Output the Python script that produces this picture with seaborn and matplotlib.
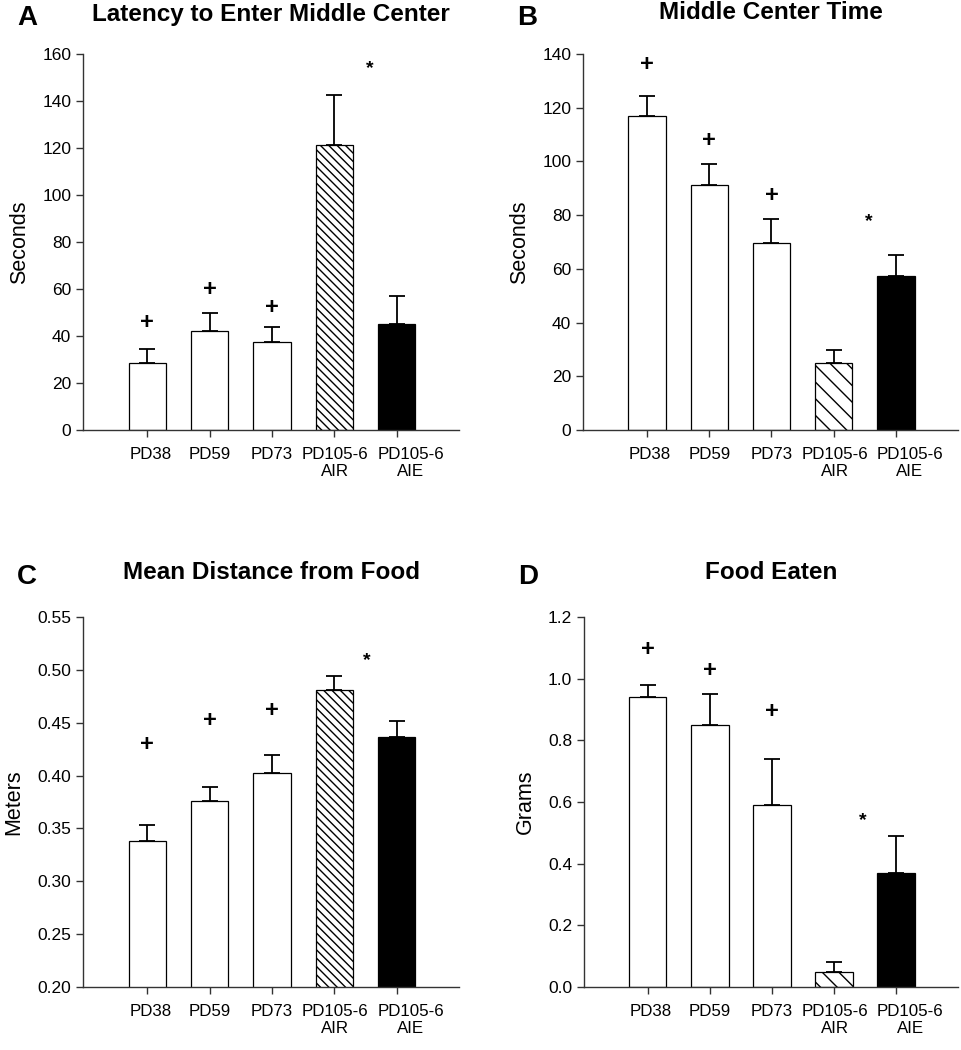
import matplotlib
matplotlib.use("Agg")
import matplotlib.pyplot as plt
import matplotlib.transforms as mtransforms
import seaborn as sns

groups = ["PD38", "PD59", "PD73", "PD105-6\nAIR", "PD105-6\nAIE"]
bar_colors = ["white", "white", "white", "white", "black"]

# panel A - latency to enter middle center (s)
lat_mean = [28.4, 42.3, 37.5, 121.4, 44.9]
lat_sem = [6.0, 7.4, 6.5, 21.2, 12.3]
lat_plus = [45.7, 59.7, 52.3]
lat_star = (3.56, 154)

# panel B - middle center time (s)
mct_mean = [117.0, 91.3, 69.7, 24.8, 57.3]
mct_sem = [7.5, 7.8, 8.9, 5.0, 7.7]
mct_plus = [136, 107.8, 87.5]
mct_star = (3.56, 77.6)

# panel C - mean distance from food (m)
dist_mean = [0.3384, 0.3757, 0.4025, 0.481, 0.4368]
dist_sem = [0.0149, 0.0132, 0.0167, 0.0135, 0.0145]
dist_plus = [0.4293, 0.452, 0.4617]
dist_star = (3.52, 0.509)

# panel D - food eaten (g)
food_mean = [0.9395, 0.85, 0.589, 0.0476, 0.369]
food_sem = [0.0395, 0.10, 0.149, 0.0334, 0.122]
food_plus = [1.094, 1.025, 0.893]
food_star = (3.46, 0.54)

sns.set_style("ticks")
plt.rcParams["font.family"] = ["Liberation Sans", "DejaVu Sans"]
plt.rcParams["text.color"] = "black"
plt.rcParams["axes.labelcolor"] = "black"

fig = plt.figure(figsize=(9.62, 10.5), dpi=100)

panels = [
    dict(pos=[0.0863, 0.5905, 0.391, 0.358], mean=lat_mean, sem=lat_sem, plus=lat_plus, star=lat_star,
         title="Latency to Enter Middle Center", letter="A", ylabel="Seconds",
         ylim=(0, 160), ticks=[0, 20, 40, 60, 80, 100, 120, 140, 160], fmt="{:.0f}", hatch="\\\\\\\\", pad=24),
    dict(pos=[0.606, 0.5905, 0.390, 0.358], mean=mct_mean, sem=mct_sem, plus=mct_plus, star=mct_star,
         title="Middle Center Time", letter="B", ylabel="Seconds",
         ylim=(0, 140), ticks=[0, 20, 40, 60, 80, 100, 120, 140], fmt="{:.0f}", hatch="\\\\", pad=25),
    dict(pos=[0.0863, 0.06, 0.391, 0.3524], mean=dist_mean, sem=dist_sem, plus=dist_plus, star=dist_star,
         title="Mean Distance from Food", letter="C", ylabel="Meters",
         ylim=(0.20, 0.55), ticks=[0.20, 0.25, 0.30, 0.35, 0.40, 0.45, 0.50, 0.55], fmt="{:.2f}",
         hatch="\\\\\\\\", pad=27),
    dict(pos=[0.607, 0.06, 0.389, 0.3524], mean=food_mean, sem=food_sem, plus=food_plus, star=food_star,
         title="Food Eaten", letter="D", ylabel="Grams",
         ylim=(0, 1.2), ticks=[0.0, 0.2, 0.4, 0.6, 0.8, 1.0, 1.2], fmt="{:.1f}", hatch="\\\\", pad=27),
]

# small sideways nudges of the x tick labels, in pixels, as in the original layout
label_shift = [3, 0, 0, 1, 14]

for p in panels:
    ax = fig.add_axes(p["pos"])
    sns.barplot(x=groups, y=p["mean"], hue=groups, palette=bar_colors, edgecolor="black",
                linewidth=0.9, width=0.6, legend=False, ax=ax, zorder=2)
    ax.patches[3].set_hatch(p["hatch"])
    ax.errorbar(range(len(groups)), p["mean"], yerr=[[0] * len(groups), p["sem"]], fmt="none",
                ecolor="black", elinewidth=1.3, capsize=5.5, capthick=1.3, zorder=1)
    for i, yv in enumerate(p["plus"]):
        ax.text(i, yv, "+", ha="center", va="center", fontsize=17, fontweight="bold")
    ax.text(p["star"][0], p["star"][1], "*", ha="center", va="center", fontsize=14, fontweight="bold")

    ax.set_xlim(-1.03, 5.0)
    ax.set_ylim(*p["ylim"])
    ax.set_yticks(p["ticks"])
    ax.set_yticklabels([p["fmt"].format(t) for t in p["ticks"]])
    ax.tick_params(axis="both", length=5, width=1, color="#333333",
                   labelcolor="black", direction="out")
    ax.tick_params(axis="y", labelsize=12.5)
    ax.tick_params(axis="x", labelsize=12.2, pad=7)
    ax.set_xlabel("")
    ax.set_ylabel(p["ylabel"], fontsize=15.5, labelpad=9)
    ax.set_title(p["title"], fontsize=17.5, fontweight="bold", pad=p["pad"])
    sns.despine(ax=ax)
    for s in ["left", "bottom"]:
        ax.spines[s].set_color("#333333")
        ax.spines[s].set_linewidth(1.0)
    for lab, dx in zip(ax.get_xticklabels(), label_shift):
        lab.set_transform(lab.get_transform() + mtransforms.ScaledTranslation(dx / 100, 0, fig.dpi_scale_trans))
    bb = ax.get_position()
    fig.text(bb.x0 - 0.058, bb.y1 + 0.034 + (0.004 if p["letter"] in "CD" else 0), p["letter"],
             fontsize=20, fontweight="bold", ha="center", va="center")

fig.savefig("out.png", dpi=100)
